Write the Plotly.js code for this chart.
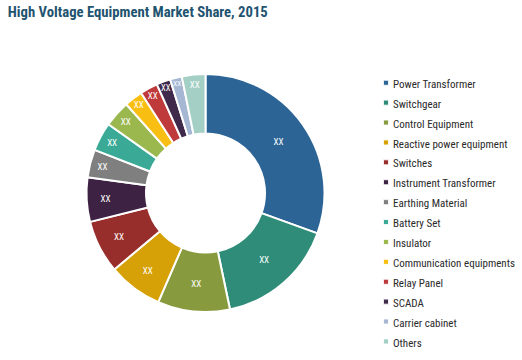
<!DOCTYPE html>
<html>
<head>
<meta charset="utf-8">
<script src="https://cdn.plot.ly/plotly-3.0.1.min.js"></script>
<style>
html,body{margin:0;padding:0;background:#fff;}
#chart{width:522px;height:360px;}
#chart .legend .legendpoints path{transform:translate(33px,0px) scale(0.42);}
</style>
</head>
<body>
<div id="chart"></div>
<script>
const categories = ["Power Transformer","Switchgear","Control Equipment","Reactive power equipment","Switches","Instrument Transformer","Earthing Material","Battery Set","Insulator","Communication equipments","Relay Panel","SCADA","Carrier cabinet","Others"];
const shareValues = [30.5, 16.2, 9.8, 7.4, 7.2, 6.0, 3.8, 3.9, 3.6, 2.5, 2.4, 1.9, 1.6, 3.2];
const sliceLabels = ["XX","XX","XX","XX","XX","XX","XX","XX","XX","XX","XX","XX","XX","XX"];
const sliceColors = ["#2C6496","#2E8C78","#879B3E","#D6A106","#982E2B","#3E2243","#7F7F7F","#3AAA96","#9BB84F","#F8BE12","#BF3A3B","#3F2A4B","#A5B7D3","#A3CFC4"];

const legendLabels = categories.map(c => '<span style="font-size:11px">' + c + '</span>');

const trace = {
  type: "pie",
  labels: legendLabels,
  values: shareValues,
  text: sliceLabels,
  texttemplate: "%{text}",
  textposition: "inside",
  insidetextorientation: "horizontal",
  textfont: {color: "#ffffff", size: 9, family: "Roboto Condensed, sans-serif"},
  hole: 0.5,
  sort: false,
  direction: "clockwise",
  rotation: 0,
  marker: {colors: sliceColors, line: {color: "#ffffff", width: 2}},
  domain: {x: [0.1657, 0.6217], y: [0.1333, 0.7944]},
  hoverinfo: "percent"
};

const layout = {
  width: 522, height: 360,
  margin: {l: 0, r: 0, t: 0, b: 0, autoexpand: false},
  paper_bgcolor: "#ffffff",
  title: {text: "<b>High Voltage Equipment Market Share, 2015</b>", x: 0.015, xanchor: "left", y: 0.967, yanchor: "middle",
          font: {family: "Roboto Condensed, sans-serif", size: 14.7, color: "#1E5470"}},
  showlegend: true,
  legend: {x: 0.6762, xanchor: "left", y: 0.8117, yanchor: "top", font: {family: "Roboto Condensed, sans-serif", size: 13, color: "#2a2a2a"},
           itemwidth: 30, bgcolor: "rgba(0,0,0,0)"}
};

Plotly.newPlot("chart", [trace], layout, {displayModeBar: false, staticPlot: true});
</script>
</body>
</html>
